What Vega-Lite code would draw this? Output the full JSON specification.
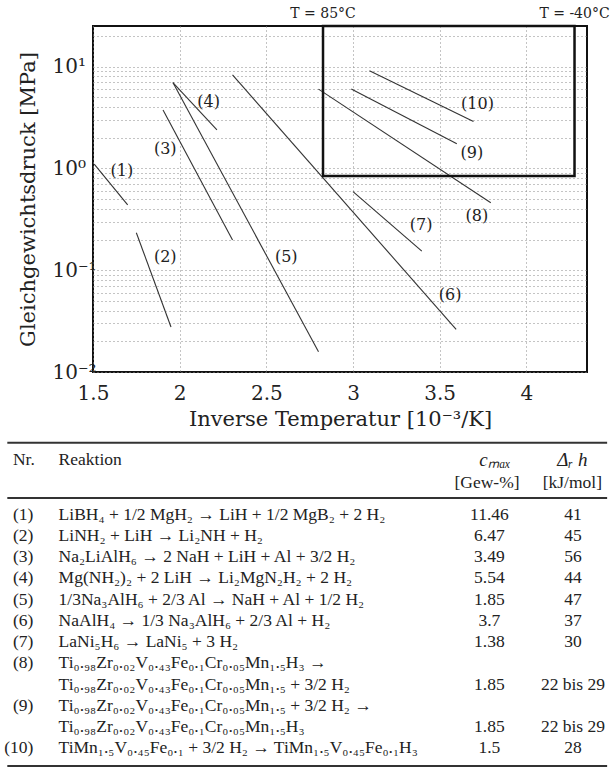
{
  "$schema": "https://vega.github.io/schema/vega-lite/v6.json",
  "background": "white",
  "padding": {"left": 4, "top": 6, "right": 0, "bottom": 0},
  "bounds": "flush",
  "spacing": 58,
  "config": {
    "view": {"stroke": null},
    "font": "DejaVu Serif",
    "text": {"font": "DejaVu Serif", "color": "#222"}
  },
  "vconcat": [
    {
      "width": 494,
      "height": 346,
      "view": {"stroke": "#111", "strokeWidth": 2},
      "layer": [
        {
          "data": {"values": [
            {"reaction": 1, "x": 1.507, "y": 1.10}, {"reaction": 1, "x": 1.70, "y": 0.437},
            {"reaction": 2, "x": 1.75, "y": 0.233}, {"reaction": 2, "x": 1.95, "y": 0.0277},
            {"reaction": 3, "x": 1.904, "y": 3.75}, {"reaction": 3, "x": 2.305, "y": 0.198},
            {"reaction": 4, "x": 1.961, "y": 6.96}, {"reaction": 4, "x": 2.215, "y": 2.39},
            {"reaction": 5, "x": 1.961, "y": 6.96}, {"reaction": 5, "x": 2.801, "y": 0.0158},
            {"reaction": 6, "x": 2.305, "y": 8.28}, {"reaction": 6, "x": 3.595, "y": 0.0262},
            {"reaction": 7, "x": 3.0, "y": 0.59}, {"reaction": 7, "x": 3.397, "y": 0.154},
            {"reaction": 8, "x": 2.801, "y": 6.0}, {"reaction": 8, "x": 3.795, "y": 0.46},
            {"reaction": 9, "x": 2.99, "y": 6.0}, {"reaction": 9, "x": 3.599, "y": 1.74},
            {"reaction": 10, "x": 3.095, "y": 9.07}, {"reaction": 10, "x": 3.695, "y": 2.88}
          ]},
          "mark": {"type": "line", "color": "#333", "strokeWidth": 1.1},
          "encoding": {
            "x": {
              "field": "x", "type": "quantitative",
              "scale": {"domain": [1.5, 4.35], "nice": false, "zero": false},
              "axis": {
                "values": [1.5, 2, 2.5, 3, 3.5, 4],
                "format": "~g",
                "grid": true, "gridDash": [1, 3], "gridColor": "#888", "gridWidth": 1,
                "ticks": false, "domain": false,
                "labelFlush": false,
                "labelFont": "DejaVu Serif", "labelFontSize": 20, "labelColor": "#222",
                "labelPadding": 11,
                "title": "Inverse Temperatur [10⁻³/K]",
                "titleFont": "DejaVu Serif", "titleFontSize": 21, "titleFontWeight": "normal", "titleColor": "#222",
                "titlePadding": 5
              }
            },
            "y": {
              "field": "y", "type": "quantitative",
              "scale": {"type": "log", "domain": [0.01, 25], "nice": false},
              "axis": {
                "values": [0.01, 0.02, 0.03, 0.04, 0.05, 0.06, 0.07, 0.08, 0.09, 0.1, 0.2, 0.3, 0.4, 0.5, 0.6, 0.7, 0.8, 0.9, 1, 2, 3, 4, 5, 6, 7, 8, 9, 10, 20],
                "labelExpr": "datum.value == 10 ? '10¹' : datum.value == 1 ? '10⁰' : datum.value == 0.1 ? '10⁻¹' : datum.value == 0.01 ? '10⁻²' : ''",
                "labelOverlap": false, "labelBound": false, "labelFlush": false,
                "grid": true, "gridDash": [1, 3], "gridColor": "#888", "gridWidth": 1,
                "ticks": false, "domain": false,
                "labelAlign": "left", "labelPadding": 41,
                "labelFont": "DejaVu Serif", "labelFontSize": 20, "labelColor": "#222",
                "title": "Gleichgewichtsdruck [MPa]",
                "titleFont": "DejaVu Serif", "titleFontSize": 21, "titleFontWeight": "normal", "titleColor": "#222",
                "titlePadding": 14
              }
            },
            "detail": {"field": "reaction", "type": "nominal"}
          }
        },
        {
          "data": {"values": [{"x1": 2.827, "x2": 4.278, "y1": 0.84, "y2": 25}]},
          "mark": {"type": "rect", "fill": null, "fillOpacity": 0, "stroke": "#111", "strokeWidth": 2.5},
          "encoding": {
            "x": {"field": "x1", "type": "quantitative"},
            "x2": {"field": "x2"},
            "y": {"field": "y1", "type": "quantitative"},
            "y2": {"field": "y2"}
          }
        },
        {
          "data": {"values": [
            {"label": "(1)", "x": 1.667, "y": 0.95},
            {"label": "(2)", "x": 1.917, "y": 0.135},
            {"label": "(3)", "x": 1.917, "y": 1.54},
            {"label": "(4)", "x": 2.167, "y": 4.53},
            {"label": "(5)", "x": 2.615, "y": 0.135},
            {"label": "(6)", "x": 3.56, "y": 0.0569},
            {"label": "(7)", "x": 3.393, "y": 0.278},
            {"label": "(8)", "x": 3.715, "y": 0.34},
            {"label": "(9)", "x": 3.686, "y": 1.43},
            {"label": "(10)", "x": 3.718, "y": 4.27}
          ]},
          "mark": {"type": "text", "fontSize": 16, "baseline": "middle", "align": "center"},
          "encoding": {
            "x": {"field": "x", "type": "quantitative"},
            "y": {"field": "y", "type": "quantitative"},
            "text": {"field": "label"}
          }
        },
        {
          "data": {"values": [
            {"label": "T = 85°C", "x": 2.827},
            {"label": "T = -40°C", "x": 4.278}
          ]},
          "mark": {"type": "text", "fontSize": 14, "baseline": "middle", "align": "center", "dy": -12},
          "encoding": {
            "x": {"field": "x", "type": "quantitative"},
            "y": {"datum": 25, "type": "quantitative"},
            "text": {"field": "label"}
          }
        }
      ]
    },
    {
      "width": 494,
      "height": 350,
      "layer": [
        {
          "data": {"name": "rows", "values": [
            {"line": 1, "nr": "(1)", "reaktion": "LiBH₄ + 1/2 MgH₂ → LiH + 1/2 MgB₂ + 2 H₂", "cmax": "11.46", "dh": "41"},
            {"line": 2, "nr": "(2)", "reaktion": "LiNH₂ + LiH → Li₂NH + H₂", "cmax": "6.47", "dh": "45"},
            {"line": 3, "nr": "(3)", "reaktion": "Na₂LiAlH₆ → 2 NaH + LiH + Al + 3/2 H₂", "cmax": "3.49", "dh": "56"},
            {"line": 4, "nr": "(4)", "reaktion": "Mg(NH₂)₂ + 2 LiH → Li₂MgN₂H₂ + 2 H₂", "cmax": "5.54", "dh": "44"},
            {"line": 5, "nr": "(5)", "reaktion": "1/3Na₃AlH₆ + 2/3 Al → NaH + Al + 1/2 H₂", "cmax": "1.85", "dh": "47"},
            {"line": 6, "nr": "(6)", "reaktion": "NaAlH₄ → 1/3 Na₃AlH₆ + 2/3 Al + H₂", "cmax": "3.7", "dh": "37"},
            {"line": 7, "nr": "(7)", "reaktion": "LaNi₅H₆ → LaNi₅ + 3 H₂", "cmax": "1.38", "dh": "30"},
            {"line": 8, "nr": "(8)", "reaktion": "Ti₀.₉₈Zr₀.₀₂V₀.₄₃Fe₀.₁Cr₀.₀₅Mn₁.₅H₃ →", "cmax": "", "dh": ""},
            {"line": 9, "nr": "", "reaktion": "Ti₀.₉₈Zr₀.₀₂V₀.₄₃Fe₀.₁Cr₀.₀₅Mn₁.₅ + 3/2 H₂", "cmax": "1.85", "dh": "22 bis 29"},
            {"line": 10, "nr": "(9)", "reaktion": "Ti₀.₉₈Zr₀.₀₂V₀.₄₃Fe₀.₁Cr₀.₀₅Mn₁.₅ + 3/2 H₂ →", "cmax": "", "dh": ""},
            {"line": 11, "nr": "", "reaktion": "Ti₀.₉₈Zr₀.₀₂V₀.₄₃Fe₀.₁Cr₀.₀₅Mn₁.₅H₃", "cmax": "1.85", "dh": "22 bis 29"},
            {"line": 12, "nr": "(10)", "reaktion": "TiMn₁.₅V₀.₄₅Fe₀.₁ + 3/2 H₂ → TiMn₁.₅V₀.₄₅Fe₀.₁H₃", "cmax": "1.5", "dh": "28"}
          ]},
          "mark": {"type": "text", "align": "right", "baseline": "middle", "fontSize": 17.5, "font": "Liberation Serif"},
          "encoding": {
            "x": {"datum": 5.41, "type": "quantitative", "scale": {"domain": [15.2, 96.2], "nice": false, "zero": false}, "axis": null},
            "y": {"field": "line", "type": "quantitative", "scale": {"domain": [-3, 13.5], "reverse": true, "nice": false, "zero": false}, "axis": null},
            "text": {"field": "nr"}
          }
        },
        {
          "data": {"name": "rows"},
          "mark": {"type": "text", "align": "left", "baseline": "middle", "fontSize": 17.5, "font": "Liberation Serif"},
          "encoding": {
            "x": {"datum": 9.56, "type": "quantitative"},
            "y": {"field": "line", "type": "quantitative"},
            "text": {"field": "reaktion"}
          }
        },
        {
          "data": {"name": "rows"},
          "mark": {"type": "text", "align": "center", "baseline": "middle", "fontSize": 17.5, "font": "Liberation Serif"},
          "encoding": {
            "x": {"datum": 80.2, "type": "quantitative"},
            "y": {"field": "line", "type": "quantitative"},
            "text": {"field": "cmax"}
          }
        },
        {
          "data": {"name": "rows"},
          "mark": {"type": "text", "align": "center", "baseline": "middle", "fontSize": 17.5, "font": "Liberation Serif"},
          "encoding": {
            "x": {"datum": 93.9, "type": "quantitative"},
            "y": {"field": "line", "type": "quantitative"},
            "text": {"field": "dh"}
          }
        },
        {
          "data": {"values": [{}]},
          "mark": {"type": "text", "align": "left", "baseline": "middle", "fontSize": 17.5, "font": "Liberation Serif"},
          "encoding": {
            "x": {"datum": 2.08, "type": "quantitative"},
            "y": {"datum": -1.59, "type": "quantitative"},
            "text": {"value": "Nr."}
          }
        },
        {
          "data": {"values": [{}]},
          "mark": {"type": "text", "align": "left", "baseline": "middle", "fontSize": 17.5, "font": "Liberation Serif"},
          "encoding": {
            "x": {"datum": 9.56, "type": "quantitative"},
            "y": {"datum": -1.59, "type": "quantitative"},
            "text": {"value": "Reaktion"}
          }
        },
        {
          "data": {"values": [{}]},
          "mark": {"type": "text", "align": "center", "baseline": "middle", "fontSize": 19, "fontStyle": "italic", "font": "Liberation Serif"},
          "encoding": {
            "x": {"datum": 81.1, "type": "quantitative"},
            "y": {"datum": -1.59, "type": "quantitative"},
            "text": {"value": "cₘₐₓ"}
          }
        },
        {
          "data": {"values": [{}]},
          "mark": {"type": "text", "align": "center", "baseline": "middle", "fontSize": 17.5, "font": "Liberation Serif"},
          "encoding": {
            "x": {"datum": 79.8, "type": "quantitative"},
            "y": {"datum": -0.51, "type": "quantitative"},
            "text": {"value": "[Gew-%]"}
          }
        },
        {
          "data": {"values": [{}]},
          "mark": {"type": "text", "align": "center", "baseline": "middle", "fontSize": 19, "fontStyle": "italic", "font": "Liberation Serif"},
          "encoding": {
            "x": {"datum": 93.8, "type": "quantitative"},
            "y": {"datum": -1.59, "type": "quantitative"},
            "text": {"value": "Δᵣ h"}
          }
        },
        {
          "data": {"values": [{}]},
          "mark": {"type": "text", "align": "center", "baseline": "middle", "fontSize": 17.5, "font": "Liberation Serif"},
          "encoding": {
            "x": {"datum": 93.8, "type": "quantitative"},
            "y": {"datum": -0.51, "type": "quantitative"},
            "text": {"value": "[kJ/mol]"}
          }
        },
        {
          "data": {"values": [{"pos": -2.4}, {"pos": 0.2}, {"pos": 12.84}]},
          "mark": {"type": "rule", "color": "#333", "strokeWidth": 2},
          "encoding": {
            "x": {"datum": 1.15, "type": "quantitative"},
            "x2": {"datum": 99.5},
            "y": {"field": "pos", "type": "quantitative"}
          }
        }
      ]
    }
  ]
}
